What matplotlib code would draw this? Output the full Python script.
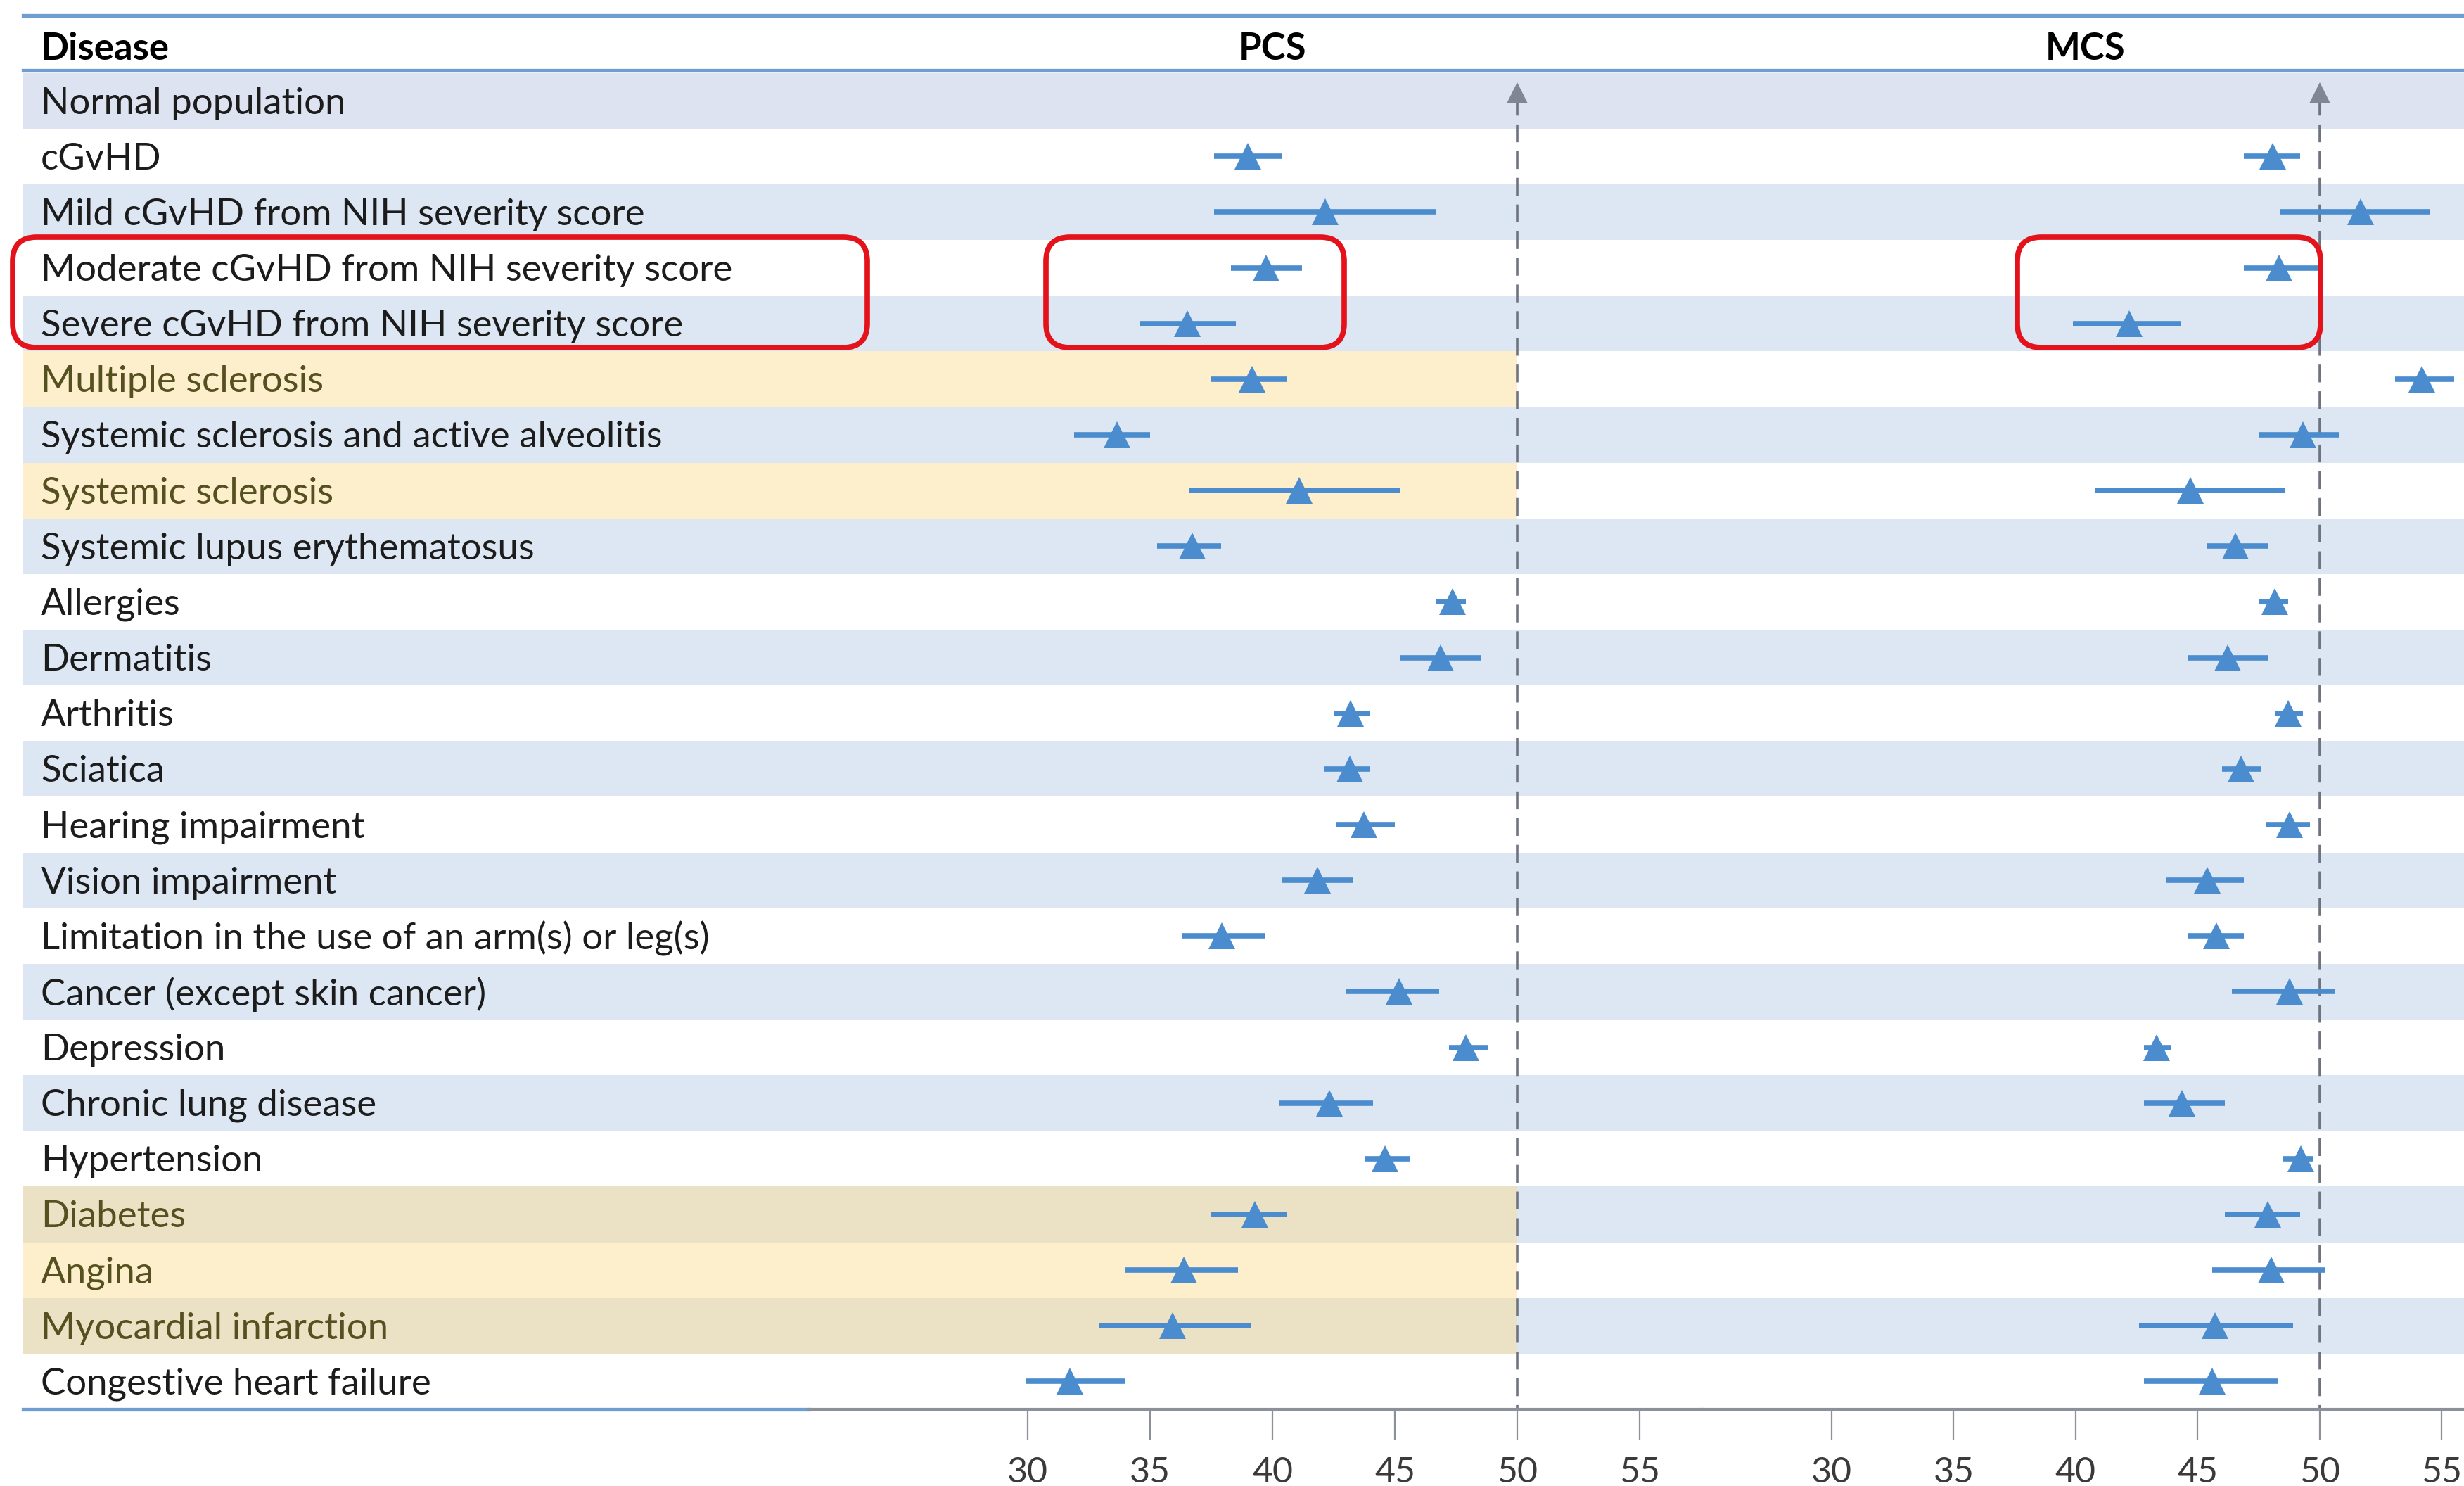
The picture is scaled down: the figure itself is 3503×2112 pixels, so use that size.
import numpy as np
import matplotlib
matplotlib.use("Agg")
import matplotlib.pyplot as plt
from matplotlib.patches import FancyBboxPatch
from matplotlib.transforms import IdentityTransform

# ---------------- data ----------------
diseases = [
    "Normal population",
    "cGvHD",
    "Mild cGvHD from NIH severity score",
    "Moderate cGvHD from NIH severity score",
    "Severe cGvHD from NIH severity score",
    "Multiple sclerosis",
    "Systemic sclerosis and active alveolitis",
    "Systemic sclerosis",
    "Systemic lupus erythematosus",
    "Allergies",
    "Dermatitis",
    "Arthritis",
    "Sciatica",
    "Hearing impairment",
    "Vision impairment",
    "Limitation in the use of an arm(s) or leg(s)",
    "Cancer (except skin cancer)",
    "Depression",
    "Chronic lung disease",
    "Hypertension",
    "Diabetes",
    "Angina",
    "Myocardial infarction",
    "Congestive heart failure",
]

pcs_mean = [np.nan, 39.0, 42.15, 39.73, 36.52, 39.18, 33.65, 41.1, 36.71, 47.35, 46.88, 43.18,
            43.16, 43.73, 41.84, 37.93, 45.17, 47.89, 42.33, 44.59, 39.29, 36.38, 35.92, 31.72]
pcs_low = [np.nan, 37.6, 37.6, 38.3, 34.6, 37.5, 31.9, 36.6, 35.3, 46.7, 45.2, 42.5,
           42.1, 42.6, 40.4, 36.3, 43.0, 47.2, 40.3, 43.8, 37.5, 34.0, 32.9, 29.9]
pcs_high = [np.nan, 40.4, 46.7, 41.2, 38.5, 40.6, 35.0, 45.2, 37.9, 47.9, 48.5, 44.0,
            44.0, 45.0, 43.3, 39.7, 46.8, 48.8, 44.1, 45.6, 40.6, 38.6, 39.1, 34.0]

mcs_mean = [np.nan, 48.06, 51.66, 48.34, 42.18, 54.18, 49.32, 44.71, 46.55, 48.16, 46.22, 48.71,
            46.77, 48.75, 45.39, 45.76, 48.76, 43.31, 44.35, 49.23, 47.88, 48.0, 45.72, 45.58]
mcs_low = [np.nan, 46.9, 48.4, 46.9, 39.9, 53.1, 47.5, 40.8, 45.4, 47.5, 44.6, 48.2,
           46.0, 47.8, 43.7, 44.6, 46.4, 42.8, 42.8, 48.5, 46.1, 45.6, 42.6, 42.8]
mcs_high = [np.nan, 49.2, 54.5, 50.0, 44.3, 55.5, 50.8, 48.6, 47.9, 48.7, 47.9, 49.3,
            47.6, 49.6, 46.9, 46.9, 50.6, 43.9, 46.1, 49.7, 49.2, 50.2, 48.9, 48.3]

highlighted = ["Multiple sclerosis", "Systemic sclerosis", "Diabetes", "Angina",
               "Myocardial infarction"]
tick_values = [30, 35, 40, 45, 50, 55]
norm_score = 50

# ---------------- style ----------------
plt.rcParams["font.family"] = ["Lato", "DejaVu Sans"]
BLUE = "#4a8cce"
BAND = "#dde7f3"
BAND_TOP = "#dee3f2"
OVERLAY = (251 / 255, 222 / 255, 149 / 255, 0.48)
RULE = "#6e9dd2"
AXIS_GREY = "#8c9099"
DASH_GREY = "#6e7380"
RED = "#e3121b"
TEXT = "#1c1c1c"
TEXT_HL = "#55501f"
LABEL_SIZE = 38
TEXT_DY = 0.05

W, H, DPI = 3503, 2112, 100
fig = plt.figure(figsize=(W / DPI, H / DPI), dpi=DPI)
fig.patch.set_facecolor("white")

n = len(diseases)
rows = np.arange(n)
top_px, bot_px = 22, 2003
y_top, y_bot = -1.53, n - 0.5
ax_bottom = (H - bot_px) / H
ax_height = (bot_px - top_px) / H

PCS_PX = (1150, 2420)
MCS_PX = (2420, 3503)
pcs_lim = (21.06, 57.56)
mcs_lim = (24.70, 55.91)
LEFT_PX = 33

# background axes in pixel x / row y
bg = fig.add_axes([0, ax_bottom, 1, ax_height])
bg.set_xlim(0, W)
bg.set_ylim(y_bot, y_top)
bg.axis("off")

band_rows = rows[rows % 2 == 0]
bg.barh(band_rows, W - LEFT_PX, left=LEFT_PX, height=1.0,
        color=[BAND_TOP if r == 0 else BAND for r in band_rows], lw=0, zorder=0)

pcs_norm_px = PCS_PX[0] + (norm_score - pcs_lim[0]) / (pcs_lim[1] - pcs_lim[0]) * (PCS_PX[1] - PCS_PX[0])
hl_rows = [diseases.index(d) for d in highlighted]
bg.barh(hl_rows, pcs_norm_px - LEFT_PX, left=LEFT_PX, height=1.0, color=OVERLAY, lw=0, zorder=1)

for i, name in enumerate(diseases):
    bg.text(58, i + TEXT_DY, name, va="center", ha="left", fontsize=LABEL_SIZE,
            color=TEXT_HL if name in highlighted else TEXT, zorder=3)
bg.text(58, -0.985 + TEXT_DY, "Disease", va="center", ha="left", fontsize=LABEL_SIZE,
        fontweight="bold", color="black")

# table rules
for yy in (y_top, -0.543):
    bg.plot([LEFT_PX, W], [yy, yy], color=RULE, lw=3.8, clip_on=False, zorder=4)
bg.plot([LEFT_PX, PCS_PX[0]], [y_bot, y_bot], color=RULE, lw=3.8, clip_on=False, zorder=4)


def panel(px, lim, mean, low, high, title, title_x):
    ax = fig.add_axes([px[0] / W, ax_bottom, (px[1] - px[0]) / W, ax_height])
    ax.set_facecolor("none")
    ax.set_xlim(*lim)
    ax.set_ylim(y_bot, y_top)
    for s in ("top", "left", "right"):
        ax.spines[s].set_visible(False)
    ax.spines["bottom"].set_color(AXIS_GREY)
    ax.spines["bottom"].set_linewidth(3)
    ax.set_yticks([])
    ax.set_xticks(tick_values)
    ax.set_xticklabels([str(t) for t in tick_values])
    ax.tick_params(axis="x", direction="out", length=32, width=1.6, color=AXIS_GREY,
                   labelsize=36, labelcolor="#3a3a3a", pad=16)

    mean = np.asarray(mean, float)
    low = np.asarray(low, float)
    high = np.asarray(high, float)
    ok = ~np.isnan(mean)
    ax.hlines(rows[ok], low[ok], high[ok], color=BLUE, lw=5.5, zorder=3)
    ax.plot(mean[ok], rows[ok], ls="none", marker="^", ms=28, mew=0, color=BLUE, zorder=4)

    # norm-based reference line with arrow head
    ax.plot([norm_score, norm_score], [-0.05, y_bot], color=DASH_GREY, lw=2.6,
            ls=(0, (7, 3.5)), clip_on=False, zorder=2)
    ax.plot([norm_score], [-0.14], marker="^", ms=21, mew=0, color="#7f8694",
            clip_on=False, zorder=2)

    ax.text(title_x, -0.985 + TEXT_DY, title, ha="center", va="center", fontsize=LABEL_SIZE,
            fontweight="bold", color="black")
    return ax


ax_pcs = panel(PCS_PX, pcs_lim, pcs_mean, pcs_low, pcs_high, "PCS", 40.0)
ax_mcs = panel(MCS_PX, mcs_lim, mcs_mean, mcs_low, mcs_high, "MCS", 40.4)

# red emphasis frames (pixel coordinates, origin top-left)
frames = [(18, 337, 1233, 494), (1487, 337, 1911, 494), (2868, 337, 3299, 494)]
for x0, y0, x1, y1 in frames:
    p = FancyBboxPatch((x0, H - y1), x1 - x0, y1 - y0,
                       boxstyle="round,pad=0,rounding_size=34",
                       transform=IdentityTransform(), fill=False, ec=RED, lw=5.5, zorder=10)
    fig.add_artist(p)

fig.savefig("out.png", dpi=DPI, facecolor="white")
